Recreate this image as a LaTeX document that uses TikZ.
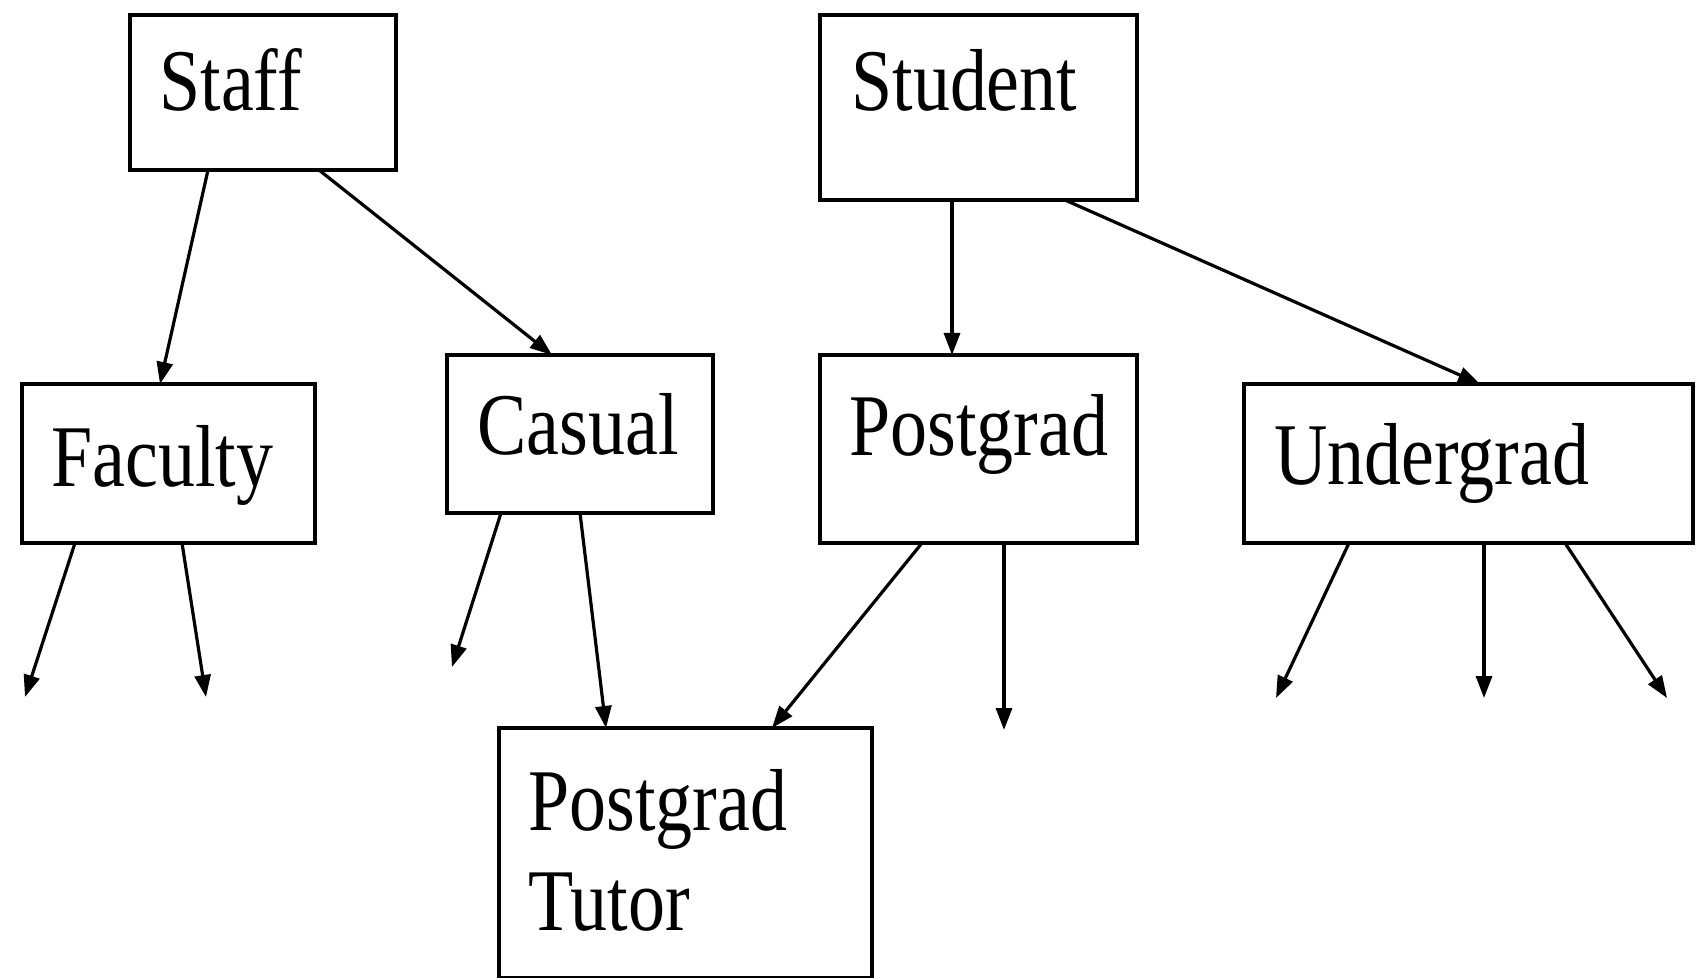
\documentclass[tikz,border=0pt]{standalone}
\usepackage{fontspec}
\setmainfont[FakeStretch=0.84]{Liberation Serif}
\usetikzlibrary{arrows.meta}

\begin{document}
\begin{tikzpicture}[x=0.5pt, y=-0.5pt,
		box/.style={draw, line width=2.4pt, anchor=north west, outer sep=0pt, inner sep=0pt},
		lbl/.style={anchor=base west, inner sep=0pt, align=left, font=\fontsize{44pt}{50pt}\selectfont},
		arr/.style={-{Triangle[length=11pt, width=8pt]}, line width=1.6pt}]
				\useasboundingbox (0,0) rectangle (1696,978);

				\node[box, minimum width=133pt, minimum height=77.5pt] (1) at (130,15) {};
				\node[box, minimum width=158.5pt, minimum height=92.5pt] (2) at (820,15) {};
				\node[box, minimum width=146.5pt, minimum height=79.5pt] (3) at (22,384) {};
				\node[box, minimum width=133pt, minimum height=79pt] (4) at (447,355) {};
				\node[box, minimum width=158.5pt, minimum height=94pt] (5) at (820,355) {};
				\node[box, minimum width=224.5pt, minimum height=79.5pt] (6) at (1244,384) {};
				\node[box, minimum width=186.5pt, minimum height=125pt] (7) at (499,728) {};

				\node[lbl] (1t) at ([shift={(29,96)}]1.north west) {Staff};
				\node[lbl] (2t) at ([shift={(31,96)}]2.north west) {Student};
				\node[lbl] (3t) at ([shift={(29,102)}]3.north west) {Faculty};
				\node[lbl] (4t) at ([shift={(30,99)}]4.north west) {Casual};
				\node[lbl] (5t) at ([shift={(29,100)}]5.north west) {Postgrad};
				\node[lbl] (6t) at ([shift={(30,100)}]6.north west) {Undergrad};
				\node[lbl] (7t) at ([shift={(29,202)}]7.north west) {Postgrad\\Tutor};

				\coordinate (3a) at (25,697);
				\coordinate (3b) at (206,697);
				\coordinate (4a) at (452,667);
				\coordinate (5a) at (1004,730);
				\coordinate (6a) at (1276,698);
				\coordinate (6b) at (1484,698);
				\coordinate (6c) at (1667,698);

				\draw[arr] ([shift={(78,0)}]1.south west) -- ([shift={(138,0)}]3.north west);
				\draw[arr] ([shift={(189,0)}]1.south west) -- ([shift={(105,0)}]4.north west);
				\draw[arr] ([shift={(132,0)}]2.south west) -- ([shift={(132,0)}]5.north west);
				\draw[arr] ([shift={(245,0)}]2.south west) -- ([shift={(236,0)}]6.north west);
				\draw[arr] ([shift={(53,0)}]3.south west) -- (3a);
				\draw[arr] ([shift={(160,0)}]3.south west) -- (3b);
				\draw[arr] ([shift={(54,0)}]4.south west) -- (4a);
				\draw[arr] ([shift={(133,0)}]4.south west) -- ([shift={(107,0)}]7.north west);
				\draw[arr] ([shift={(102,0)}]5.south west) -- ([shift={(273,0)}]7.north west);
				\draw[arr] ([shift={(184,0)}]5.south west) -- (5a);
				\draw[arr] ([shift={(105,0)}]6.south west) -- (6a);
				\draw[arr] ([shift={(240,0)}]6.south west) -- (6b);
				\draw[arr] ([shift={(321,0)}]6.south west) -- (6c);
			\end{tikzpicture}
\end{document}
